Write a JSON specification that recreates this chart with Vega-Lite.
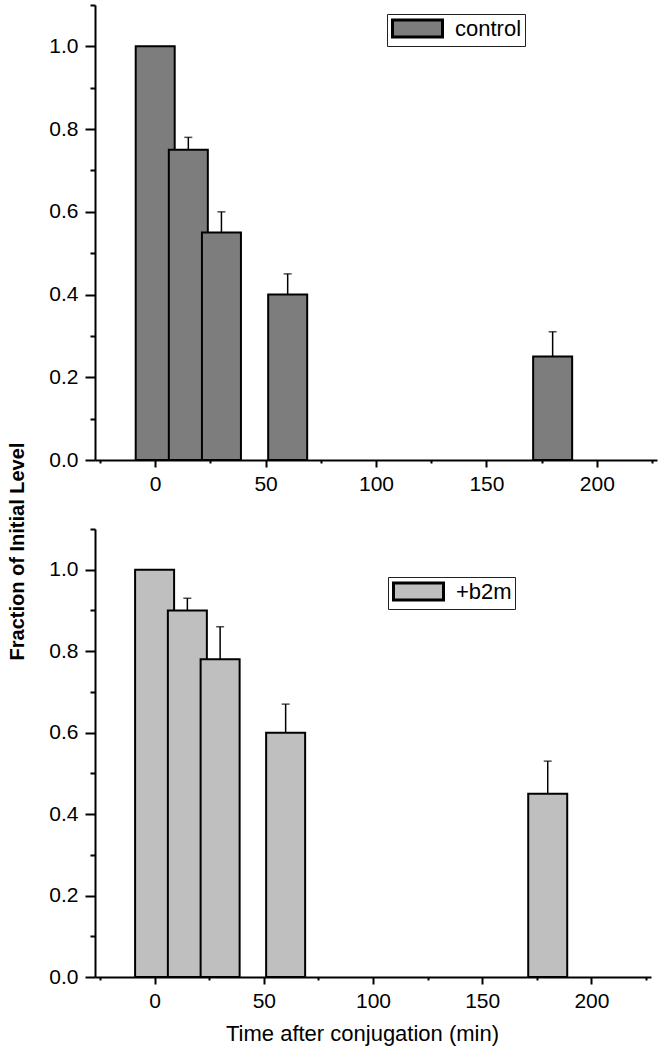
{
  "$schema": "https://vega.github.io/schema/vega-lite/v6.json",
  "background": "white",
  "padding": {"left": 7, "top": 4, "right": 5, "bottom": 3},
  "bounds": "flush",
  "spacing": 69,
  "config": {
    "view": {"stroke": null},
    "font": "Liberation Sans",
    "axis": {
      "domainColor": "black", "domainWidth": 2, "tickColor": "black", "tickWidth": 2,
      "labelColor": "black", "labelFont": "Liberation Sans", "labelFontSize": 21,
      "labelOverlap": false, "labelFlush": false, "labelBound": false,
      "grid": false, "titleColor": "black", "titleFont": "Liberation Sans"
    }
  },
  "datasets": {
    "control": [
      {"series": "control", "time": 0, "value": 1.0, "upper": null},
      {"series": "control", "time": 15, "value": 0.75, "upper": 0.78},
      {"series": "control", "time": 30, "value": 0.55, "upper": 0.60},
      {"series": "control", "time": 60, "value": 0.40, "upper": 0.45},
      {"series": "control", "time": 180, "value": 0.25, "upper": 0.31}
    ],
    "b2m": [
      {"series": "+b2m", "time": 0, "value": 1.0, "upper": null},
      {"series": "+b2m", "time": 15, "value": 0.90, "upper": 0.93},
      {"series": "+b2m", "time": 30, "value": 0.78, "upper": 0.86},
      {"series": "+b2m", "time": 60, "value": 0.60, "upper": 0.67},
      {"series": "+b2m", "time": 180, "value": 0.45, "upper": 0.53}
    ]
  },
  "resolve": {
    "scale": {"color": "independent", "x": "independent", "y": "independent"},
    "legend": {"color": "independent"}
  },
  "vconcat": [
    {
      "width": 562,
      "height": 455,
      "data": {"name": "control"},
      "encoding": {
        "x": {
          "field": "time", "type": "quantitative",
          "scale": {"domain": [-25, 225], "nice": false, "zero": false},
          "axis": {
            "title": null,
            "values": [-25, 0, 25, 50, 75, 100, 125, 150, 175, 200, 225],
            "labelExpr": "datum.value >= 0 && datum.value <= 200 && datum.value % 50 == 0 ? datum.label : ''",
            "labelFontSize": {"condition": {"test": "datum.value >= 0 && datum.value <= 200 && datum.value % 50 == 0", "value": 21}, "value": 0},
            "tickSize": {"condition": {"test": "datum.value % 50 == 0", "value": 7}, "value": 3},
            "labelPadding": 6
          }
        },
        "y": {
          "field": "value", "type": "quantitative",
          "title": "Fraction of Initial Level",
          "scale": {"domain": [0, 1.1], "nice": false},
          "axis": {
            "title": "Fraction of Initial Level",
            "titleFontSize": 20, "titleFontWeight": "bold",
            "titleAngle": 270, "titleBaseline": "alphabetic", "titleAlign": "center",
            "titleX": -72, "titleY": 546,
            "values": [0, 0.1, 0.2, 0.3, 0.4, 0.5, 0.6, 0.7, 0.8, 0.9, 1.0, 1.1],
            "labelExpr": "abs(datum.value*5 - round(datum.value*5)) < 0.001 ? format(datum.value, '.1f') : ''",
            "labelFontSize": {"condition": {"test": "abs(datum.value*5 - round(datum.value*5)) < 0.001", "value": 21}, "value": 0},
            "tickSize": {"condition": {"test": "abs(datum.value*5 - round(datum.value*5)) < 0.001", "value": 10}, "value": 5},
            "labelPadding": 7
          }
        }
      },
      "layer": [
        {
          "mark": {"type": "bar", "size": 39, "stroke": "black", "strokeWidth": 2},
          "encoding": {
            "color": {
              "field": "series", "type": "nominal",
              "scale": {"range": ["#7d7d7d"]},
              "legend": {
                "orient": "none", "legendX": 292, "legendY": 9, "title": null,
                "strokeColor": "#222", "fillColor": "white", "padding": 3,
                "symbolType": "M-2.5,-0.85H2.5V0.85H-2.5Z", "symbolSize": 400,
                "symbolStrokeColor": "black", "symbolStrokeWidth": 3, "symbolOpacity": 1,
                "symbolOffset": 16, "labelOffset": 26,
                "labelFontSize": 22, "labelFont": "Liberation Sans", "labelColor": "black"
              }
            }
          }
        },
        {
          "transform": [{"filter": "datum.upper != null"}],
          "mark": {"type": "rule", "color": "black", "strokeWidth": 1.5},
          "encoding": {
            "y2": {"field": "upper"}
          }
        },
        {
          "transform": [{"filter": "datum.upper != null"}],
          "mark": {"type": "tick", "orient": "horizontal", "size": 8, "thickness": 1.5, "color": "black"},
          "encoding": {
            "y": {"field": "upper", "type": "quantitative", "title": "Fraction of Initial Level"}
          }
        }
      ]
    },
    {
      "width": 556,
      "height": 448,
      "data": {"name": "b2m"},
      "encoding": {
        "x": {
          "field": "time", "type": "quantitative",
          "title": "Time after conjugation (min)",
          "scale": {"domain": [-25, 225], "nice": false, "zero": false},
          "axis": {
            "title": "Time after conjugation (min)",
            "titleFontSize": 22, "titleFontWeight": "normal",
            "titleBaseline": "alphabetic", "titleY": 63, "titleX": 267,
            "values": [-25, 0, 25, 50, 75, 100, 125, 150, 175, 200, 225],
            "labelExpr": "datum.value >= 0 && datum.value <= 200 && datum.value % 50 == 0 ? datum.label : ''",
            "labelFontSize": {"condition": {"test": "datum.value >= 0 && datum.value <= 200 && datum.value % 50 == 0", "value": 21}, "value": 0},
            "tickSize": {"condition": {"test": "datum.value % 50 == 0", "value": 7}, "value": 3},
            "labelPadding": 6
          }
        },
        "y": {
          "field": "value", "type": "quantitative",
          "title": null,
          "scale": {"domain": [0, 1.1], "nice": false},
          "axis": {
            "title": null,
            "values": [0, 0.1, 0.2, 0.3, 0.4, 0.5, 0.6, 0.7, 0.8, 0.9, 1.0, 1.1],
            "labelExpr": "abs(datum.value*5 - round(datum.value*5)) < 0.001 ? format(datum.value, '.1f') : ''",
            "labelFontSize": {"condition": {"test": "abs(datum.value*5 - round(datum.value*5)) < 0.001", "value": 21}, "value": 0},
            "tickSize": {"condition": {"test": "abs(datum.value*5 - round(datum.value*5)) < 0.001", "value": 10}, "value": 5},
            "labelPadding": 7
          }
        }
      },
      "layer": [
        {
          "mark": {"type": "bar", "size": 39, "stroke": "black", "strokeWidth": 2},
          "encoding": {
            "color": {
              "field": "series", "type": "nominal",
              "scale": {"range": ["#bfbfbf"]},
              "legend": {
                "orient": "none", "legendX": 293, "legendY": 48, "title": null,
                "strokeColor": "#222", "fillColor": "white", "padding": 3,
                "symbolType": "M-2.5,-0.85H2.5V0.85H-2.5Z", "symbolSize": 400,
                "symbolStrokeColor": "black", "symbolStrokeWidth": 3, "symbolOpacity": 1,
                "symbolOffset": 16, "labelOffset": 26,
                "labelFontSize": 22, "labelFont": "Liberation Sans", "labelColor": "black"
              }
            }
          }
        },
        {
          "transform": [{"filter": "datum.upper != null"}],
          "mark": {"type": "rule", "color": "black", "strokeWidth": 1.5},
          "encoding": {
            "y2": {"field": "upper"}
          }
        },
        {
          "transform": [{"filter": "datum.upper != null"}],
          "mark": {"type": "tick", "orient": "horizontal", "size": 8, "thickness": 1.5, "color": "black"},
          "encoding": {
            "y": {"field": "upper", "type": "quantitative", "title": null}
          }
        }
      ]
    }
  ]
}
